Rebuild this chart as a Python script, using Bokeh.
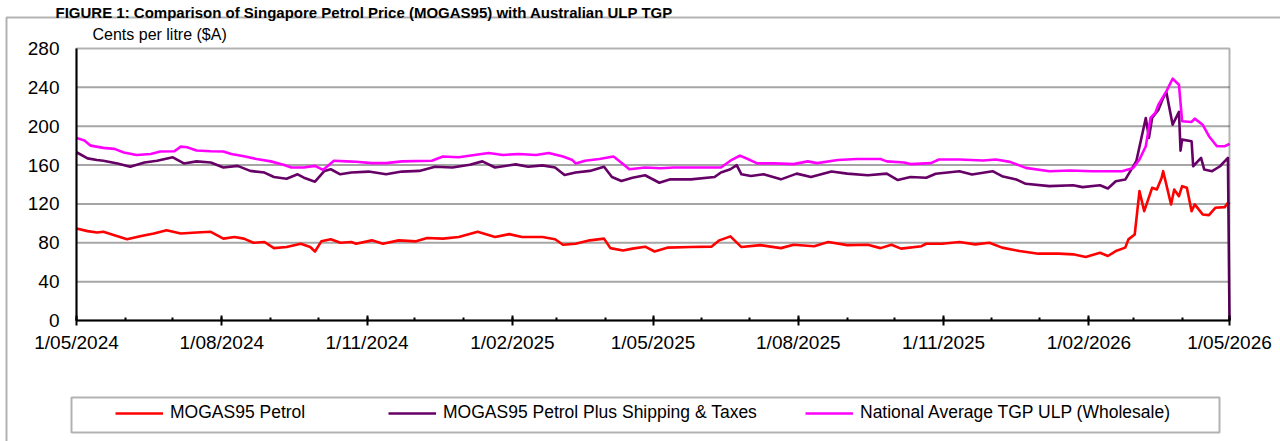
import pandas as pd
from bokeh.plotting import figure
from bokeh.models import (ColumnDataSource, FixedTicker, CustomJSTickFormatter, Legend,
                          LegendItem, Label, BoxAnnotation, Range1d)
from bokeh.embed import file_html
from bokeh.resources import INLINE

# ---------------- data ----------------
title_text = "FIGURE 1: Comparison of Singapore Petrol Price (MOGAS95) with Australian ULP TGP"
y_unit_text = "Cents per litre ($A)"
series_names = ["MOGAS95 Petrol", "MOGAS95 Petrol Plus Shipping & Taxes",
                "National Average TGP ULP (Wholesale)"]

mogas_dates = [
    "2024-05-01", "2024-05-08", "2024-05-14", "2024-05-18", "2024-05-25", "2024-06-02",
    "2024-06-11", "2024-06-19", "2024-06-27", "2024-07-06", "2024-07-16", "2024-07-25",
    "2024-08-02", "2024-08-09", "2024-08-15", "2024-08-21", "2024-08-28", "2024-09-03",
    "2024-09-11", "2024-09-20", "2024-09-26", "2024-09-29", "2024-10-03", "2024-10-09",
    "2024-10-15", "2024-10-22", "2024-10-25", "2024-11-04", "2024-11-11", "2024-11-21",
    "2024-12-02", "2024-12-09", "2024-12-19", "2024-12-29", "2025-01-10", "2025-01-21",
    "2025-01-30", "2025-02-07", "2025-02-20", "2025-02-28", "2025-03-05", "2025-03-13",
    "2025-03-22", "2025-03-31", "2025-04-04", "2025-04-12", "2025-04-18", "2025-04-26",
    "2025-05-02", "2025-05-10", "2025-05-25", "2025-06-07", "2025-06-12", "2025-06-19",
    "2025-06-26", "2025-07-08", "2025-07-21", "2025-07-29", "2025-08-11", "2025-08-20",
    "2025-09-01", "2025-09-14", "2025-09-22", "2025-09-29", "2025-10-05", "2025-10-18",
    "2025-10-21", "2025-10-31", "2025-11-11", "2025-11-21", "2025-11-30", "2025-12-08",
    "2025-12-19", "2025-12-31", "2026-01-13", "2026-01-22", "2026-01-30", "2026-02-08",
    "2026-02-13", "2026-02-18", "2026-02-24", "2026-02-26", "2026-03-02", "2026-03-05",
    "2026-03-08", "2026-03-13", "2026-03-16", "2026-03-19", "2026-03-20", "2026-03-25",
    "2026-03-27", "2026-03-30", "2026-04-01", "2026-04-04", "2026-04-07", "2026-04-09",
    "2026-04-14", "2026-04-18", "2026-04-22", "2026-04-28", "2026-04-30", "2026-05-01",
]
mogas_values = [
    94.8, 92.0, 90.6, 91.3, 87.8, 83.6,
    87.0, 89.5, 93.0, 89.5, 90.6, 91.3,
    84.3, 86.0, 84.3, 80.0, 80.8, 74.5,
    75.6, 79.0, 75.6, 71.0, 81.5, 83.6,
    80.0, 80.8, 79.0, 82.5, 79.0, 82.5,
    81.5, 85.0, 84.3, 86.0, 91.3, 86.0,
    88.9, 86.0, 86.0, 83.6, 78.0, 79.0,
    82.5, 84.3, 74.5, 72.0, 74.0, 76.0,
    71.0, 75.0, 75.6, 76.0, 82.5, 86.6,
    75.6, 77.6, 74.5, 78.0, 76.5, 80.8,
    77.6, 78.0, 74.5, 78.0, 74.0, 76.5,
    79.0, 79.0, 80.8, 78.4, 80.0, 75.0,
    71.5, 68.8, 68.8, 68.1, 65.3, 69.8,
    66.4, 71.5, 75.0, 83.5, 88.6, 133.2,
    112.6, 136.6, 134.9, 146.8, 153.7, 119.5,
    134.9, 128.0, 138.3, 136.6, 112.6, 119.5,
    109.2, 108.5, 116.0, 116.7, 121.2, 119.5,
]

shipping_dates = [
    "2024-05-01", "2024-05-08", "2024-05-14", "2024-05-18", "2024-05-27", "2024-06-04",
    "2024-06-13", "2024-06-21", "2024-07-01", "2024-07-08", "2024-07-16", "2024-07-25",
    "2024-08-02", "2024-08-11", "2024-08-19", "2024-08-28", "2024-09-03", "2024-09-11",
    "2024-09-18", "2024-09-22", "2024-09-29", "2024-10-05", "2024-10-09", "2024-10-15",
    "2024-10-22", "2024-11-02", "2024-11-13", "2024-11-23", "2024-12-04", "2024-12-14",
    "2024-12-25", "2025-01-05", "2025-01-13", "2025-01-21", "2025-02-03", "2025-02-11",
    "2025-02-20", "2025-02-28", "2025-03-06", "2025-03-13", "2025-03-22", "2025-03-31",
    "2025-04-05", "2025-04-11", "2025-04-18", "2025-04-26", "2025-05-05", "2025-05-12",
    "2025-05-25", "2025-06-09", "2025-06-13", "2025-06-19", "2025-06-23", "2025-06-26",
    "2025-07-02", "2025-07-10", "2025-07-21", "2025-07-31", "2025-08-09", "2025-08-22",
    "2025-09-01", "2025-09-14", "2025-09-26", "2025-10-03", "2025-10-11", "2025-10-21",
    "2025-10-27", "2025-11-11", "2025-11-19", "2025-12-02", "2025-12-08", "2025-12-17",
    "2025-12-23", "2026-01-07", "2026-01-22", "2026-01-28", "2026-02-08", "2026-02-13",
    "2026-02-18", "2026-02-24", "2026-03-03", "2026-03-09", "2026-03-11", "2026-03-13",
    "2026-03-17", "2026-03-20", "2026-03-22", "2026-03-26", "2026-03-30", "2026-03-31",
    "2026-04-01", "2026-04-07", "2026-04-08", "2026-04-13", "2026-04-15", "2026-04-20",
    "2026-04-25", "2026-04-30", "2026-05-01",
]
shipping_values = [
    173.2, 166.9, 165.2, 164.5, 161.7, 158.2,
    162.7, 164.5, 168.0, 161.7, 163.8, 162.7,
    157.5, 159.2, 154.0, 152.3, 147.7, 146.0,
    150.5, 147.0, 142.9, 154.0, 155.7, 150.5,
    152.3, 153.3, 150.5, 153.3, 154.0, 158.2,
    157.5, 160.3, 163.8, 157.5, 160.7, 158.2,
    159.7, 157.5, 149.8, 152.3, 154.0, 158.2,
    147.7, 143.6, 147.0, 149.5, 141.8, 145.3,
    145.3, 147.7, 152.3, 155.7, 159.9, 150.5,
    148.8, 150.5, 145.3, 151.2, 147.7, 153.3,
    151.2, 149.5, 151.2, 144.6, 147.7, 147.0,
    151.0, 153.7, 150.3, 153.7, 148.6, 145.1,
    140.7, 138.3, 139.3, 137.3, 139.3, 135.9,
    143.4, 145.1, 164.0, 208.5, 188.0, 208.5,
    217.0, 229.0, 235.2, 201.6, 214.7, 174.9,
    186.2, 184.5, 158.8, 167.4, 155.4, 153.7,
    158.8, 167.4, 0.0,
]

tgp_dates = [
    "2024-05-01", "2024-05-06", "2024-05-10", "2024-05-18", "2024-05-25", "2024-05-31",
    "2024-06-08", "2024-06-17", "2024-06-23", "2024-07-02", "2024-07-06", "2024-07-10",
    "2024-07-16", "2024-07-25", "2024-08-02", "2024-08-07", "2024-08-15", "2024-08-23",
    "2024-09-01", "2024-09-09", "2024-09-14", "2024-09-22", "2024-09-29", "2024-10-04",
    "2024-10-11", "2024-10-19", "2024-10-25", "2024-11-04", "2024-11-13", "2024-11-23",
    "2024-12-12", "2024-12-19", "2024-12-29", "2025-01-09", "2025-01-17", "2025-01-26",
    "2025-02-05", "2025-02-16", "2025-02-24", "2025-03-05", "2025-03-11", "2025-03-13",
    "2025-03-19", "2025-03-28", "2025-04-06", "2025-04-12", "2025-04-16", "2025-04-26",
    "2025-05-06", "2025-05-14", "2025-06-13", "2025-06-19", "2025-06-25", "2025-06-30",
    "2025-07-06", "2025-07-17", "2025-07-29", "2025-08-07", "2025-08-13", "2025-08-26",
    "2025-09-07", "2025-09-22", "2025-09-26", "2025-10-07", "2025-10-11", "2025-10-24",
    "2025-10-29", "2025-11-11", "2025-11-26", "2025-12-04", "2025-12-13", "2025-12-23",
    "2026-01-07", "2026-01-20", "2026-02-03", "2026-02-22", "2026-03-01", "2026-03-05",
    "2026-03-09", "2026-03-12", "2026-03-15", "2026-03-17", "2026-03-22", "2026-03-26",
    "2026-03-30", "2026-04-01", "2026-04-07", "2026-04-09", "2026-04-14", "2026-04-18",
    "2026-04-23", "2026-04-28", "2026-05-01",
]
tgp_values = [
    188.0, 185.4, 180.0, 177.7, 176.7, 173.0,
    170.4, 171.4, 174.0, 174.2, 179.0, 178.4,
    175.0, 174.2, 174.0, 171.4, 169.0, 166.2,
    163.8, 160.3, 157.5, 157.5, 159.2, 155.0,
    164.5, 163.8, 163.4, 162.0, 162.0, 163.8,
    164.5, 168.8, 168.0, 170.7, 172.5, 170.4,
    171.4, 170.4, 172.5, 168.8, 165.2, 161.7,
    164.5, 166.2, 168.8, 161.0, 155.7, 157.5,
    156.8, 157.5, 157.5, 164.5, 169.7, 166.2,
    161.7, 161.7, 161.0, 163.8, 162.0, 165.2,
    166.2, 166.2, 163.8, 162.7, 161.0, 162.0,
    165.7, 165.7, 164.7, 165.7, 163.3, 157.1,
    153.7, 154.4, 153.7, 153.7, 157.1, 165.7,
    179.4, 208.5, 213.6, 222.2, 235.9, 248.9,
    242.7, 205.1, 204.4, 207.8, 201.6, 189.7,
    179.4, 179.4, 181.8,
]

x_tick_dates = ["2024-05-01", "2024-08-01", "2024-11-01", "2025-02-01", "2025-05-01",
                "2025-08-01", "2025-11-01", "2026-02-01", "2026-05-01"]
y_ticks = [0, 40, 80, 120, 160, 200, 240, 280]

colors = ["#FF0000", "#660066", "#FF00FF"]
FONT = "Liberation Sans"

# ---------------- layout (pixels on the 1280 x 441 canvas) ----------------
W, H = 1280, 441
PLOT_L, PLOT_R, PLOT_T, PLOT_B = 76, 1229, 48, 320


def ms(s):
    return pd.Timestamp(s).value // 10**6


x0, x1 = ms(x_tick_dates[0]), ms(x_tick_dates[-1])
y0, y1 = y_ticks[0], y_ticks[-1]
xpp = (x1 - x0) / (PLOT_R - PLOT_L)      # data per pixel
ypp = (y1 - y0) / (PLOT_B - PLOT_T)

# the frame covers the whole canvas; the plot area is a sub-region of it
x_range = Range1d(x0 - PLOT_L * xpp, x1 + (W - PLOT_R) * xpp)
y_range = Range1d(y0 - (H - PLOT_B) * ypp, y1 + PLOT_T * ypp)

p = figure(width=W, height=H, x_axis_type="datetime", output_backend="svg",
           toolbar_location=None, min_border=0, x_range=x_range, y_range=y_range)
p.background_fill_color = "white"
p.border_fill_color = "white"
p.outline_line_color = None
p.grid.visible = False

# horizontal grid lines, limited to the plot area
grid_src = ColumnDataSource(dict(y=y_ticks[1:-1]))
p.segment(x0=x0, x1=x1, y0="y", y1="y", source=grid_src, line_color="#A6A6A6",
          line_width=2)

# series
sources = [
    ColumnDataSource(dict(x=pd.to_datetime(mogas_dates), y=mogas_values)),
    ColumnDataSource(dict(x=pd.to_datetime(shipping_dates), y=shipping_values)),
    ColumnDataSource(dict(x=pd.to_datetime(tgp_dates), y=tgp_values)),
]
renderers = []
for src, c in zip(sources, colors):
    renderers.append(p.line("x", "y", source=src, line_color=c, line_width=2.6,
                            line_join="round"))

# plot-area border
p.add_layout(BoxAnnotation(left=x0, right=x1, bottom=y0, top=y1, fill_alpha=0,
                           line_color="black", line_width=2, level="overlay"))

# x axis fixed at y = 0
minor = [ms(d) for d in pd.date_range(x_tick_dates[0], x_tick_dates[-1], freq="MS")]
xa = p.xaxis[0]
xa.fixed_location = y0
xa.bounds = (x0, x1)
xa.ticker = FixedTicker(ticks=[ms(d) for d in x_tick_dates], minor_ticks=minor)
xa.formatter = CustomJSTickFormatter(code="""
const d = new Date(tick);
const mm = String(d.getUTCMonth() + 1).padStart(2, "0");
return d.getUTCDate() + "/" + mm + "/" + d.getUTCFullYear();
""")
xa.axis_line_color = "black"
xa.axis_line_width = 2
xa.major_tick_line_color = "black"
xa.major_tick_line_width = 2
xa.major_tick_in = 5
xa.major_tick_out = 5
xa.minor_tick_line_color = "black"
xa.minor_tick_line_width = 2
xa.minor_tick_in = 3
xa.minor_tick_out = 0
xa.major_label_text_font = FONT
xa.major_label_text_font_size = "19px"
xa.major_label_text_color = "black"
xa.major_label_standoff = 6

# y axis fixed at the first date
ya = p.yaxis[0]
ya.fixed_location = x0
ya.bounds = (y0, y1)
ya.ticker = FixedTicker(ticks=y_ticks)
ya.axis_line_color = "black"
ya.axis_line_width = 2
ya.major_tick_in = 0
ya.major_tick_out = 0
ya.minor_tick_line_color = None
ya.major_label_text_font = FONT
ya.major_label_text_font_size = "19px"
ya.major_label_text_color = "black"
ya.major_label_standoff = 17

# outer frame (left and top edges visible) and legend box
p.add_layout(BoxAnnotation(left=6, right=W + 50, top=17, bottom=H + 50,
                           left_units="canvas", right_units="canvas",
                           top_units="canvas", bottom_units="canvas",
                           fill_alpha=0, line_color="black", line_width=2))
p.add_layout(BoxAnnotation(left=71, right=1219, top=397, bottom=432,
                           left_units="canvas", right_units="canvas",
                           top_units="canvas", bottom_units="canvas",
                           fill_alpha=0, line_color="black", line_width=2))

# texts
p.add_layout(Label(x=55, y=12, x_units="canvas", y_units="canvas", text=title_text,
                   text_font=FONT, text_font_style="bold", text_font_size="15px",
                   text_baseline="alphabetic", text_color="black"))
p.add_layout(Label(x=92, y=34, x_units="canvas", y_units="canvas", text=y_unit_text,
                   text_font=FONT, text_font_size="16px", text_baseline="middle",
                   text_color="black"))

# legend entries (one legend per entry, placed like the original)
legend_x = [115, 388, 805]
for r, name, vx in zip(renderers, series_names, legend_x):
    lg = Legend(items=[LegendItem(label=name, renderers=[r])], location=(vx, H - 423),
                orientation="horizontal", padding=0, margin=0, spacing=0,
                glyph_width=48, glyph_height=20, label_standoff=7,
                label_text_font=FONT, label_text_font_size="17.5px",
                label_text_color="black", border_line_alpha=0,
                background_fill_alpha=0)
    p.add_layout(lg, "center")

open("out.html", "w").write(file_html(p, INLINE))
